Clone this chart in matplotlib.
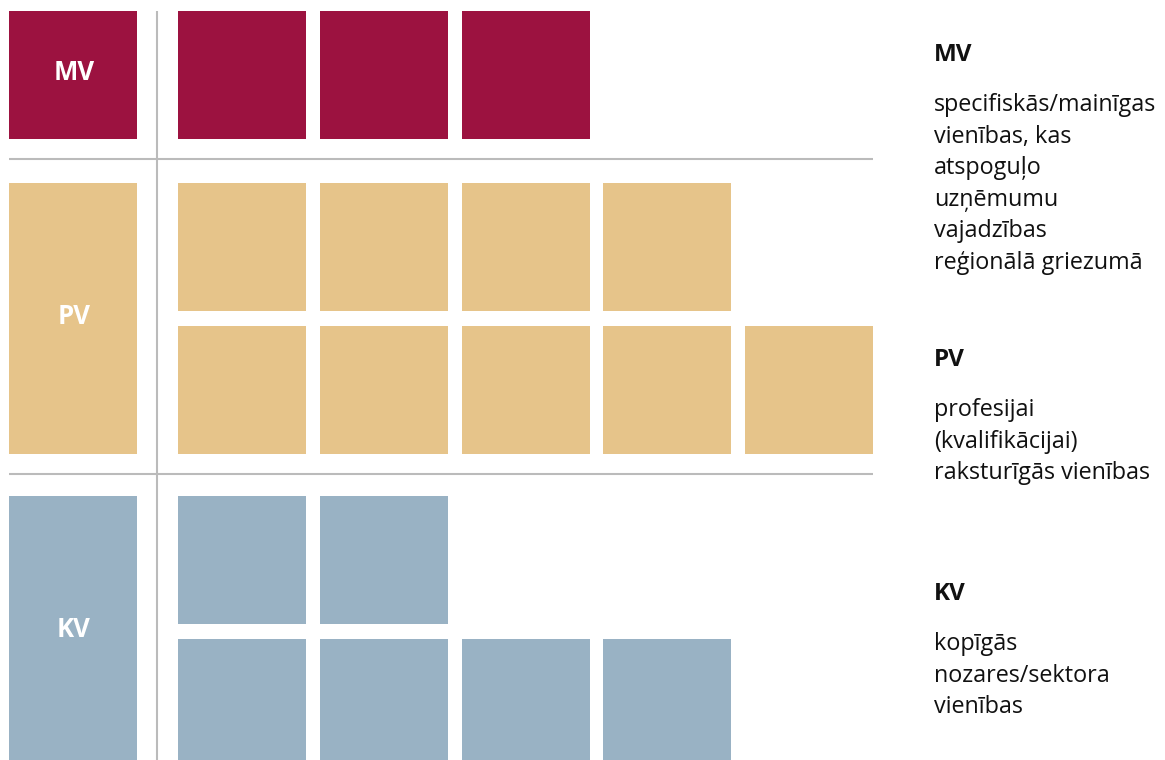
import matplotlib
matplotlib.use("Agg")
import matplotlib.pyplot as plt
from matplotlib.patches import Rectangle

# ---- data ----
groups = ["MV", "PV", "KV"]
row_counts = [[3], [4, 5], [2, 4]]          # number of unit squares per row in each group
group_titles = ["MV", "PV", "KV"]
group_descriptions = [
    ["specifiskās/mainīgas", "vienības, kas", "atspoguļo", "uzņēmumu", "vajadzības", "reģionālā griezumā"],
    ["profesijai", "(kvalifikācijai)", "raksturīgās vienības"],
    ["kopīgās", "nozares/sektora", "vienības"],
]
colors = ["#9C1240", "#E6C48A", "#99B2C4"]

plt.rcParams['font.family'] = ['Open Sans', 'DejaVu Sans']

W, H = 1165, 760
fig = plt.figure(figsize=(W / 100, H / 100), dpi=100)
ax = fig.add_axes([0, 0, 1, 1])
ax.set_xlim(0, W)
ax.set_ylim(H, 0)
ax.axis("off")

cell = 128
col_x0 = 178
col_step = 141.75
row_step = 143
group_tops = [11, 183, 496]
label_x0 = 9
desc_x = 934
title_ys = [55, 360, 594]
line_gap = 31.6

for gi, (g, rows, col) in enumerate(zip(groups, row_counts, colors)):
    top = group_tops[gi]
    nrows = len(rows)
    height = cell + (nrows - 1) * row_step
    ax.add_patch(Rectangle((label_x0, top), cell, height, facecolor=col, edgecolor="none"))
    ax.text(label_x0 + cell / 2 + 1, top + height / 2 - 2, g, color="white", fontsize=18.5,
            fontweight="bold", ha="center", va="center")
    for ri, n in enumerate(rows):
        for ci in range(n):
            ax.add_patch(Rectangle((col_x0 + ci * col_step, top + ri * row_step), cell, cell,
                                   facecolor=col, edgecolor="none"))
    # description
    ax.text(desc_x, title_ys[gi], group_titles[gi], fontsize=17.5, fontweight="bold",
            ha="left", va="center", color="#111111")
    for li, line in enumerate(group_descriptions[gi]):
        ax.text(desc_x, title_ys[gi] + 50 + li * line_gap, line, fontsize=16.8,
                ha="left", va="center", color="#111111")

# separator lines
line_col = "#BBBBBB"
ax.plot([157, 157], [11, H], color=line_col, lw=1.5, solid_capstyle="butt")
for y in [159, 474]:
    ax.plot([9, 873], [y, y], color=line_col, lw=1.5, solid_capstyle="butt")

fig.savefig("out.png", dpi=100, facecolor="white")
